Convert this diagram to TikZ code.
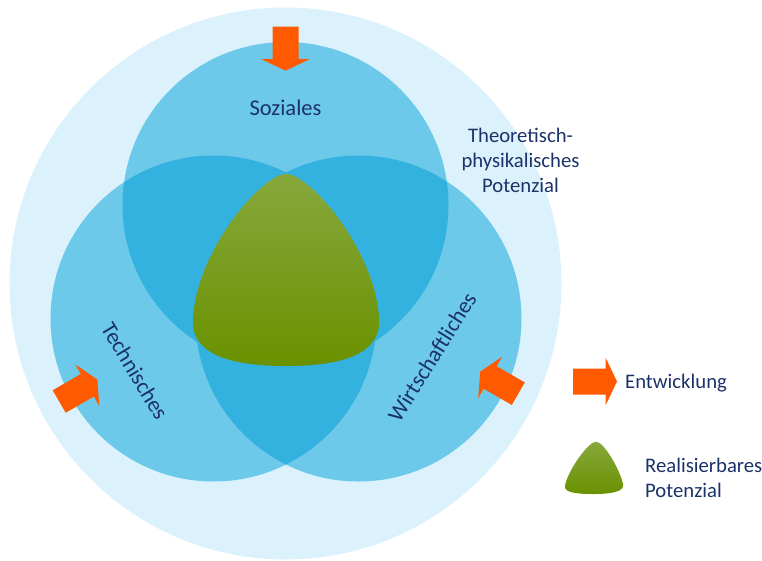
\documentclass[tikz,border=0pt]{standalone}
\usepackage{fontspec}
\setmainfont{Carlito}
\definecolor{outerblue}{RGB}{219,242,252}
\definecolor{circblue}{RGB}{109,201,234}
\definecolor{overblue}{RGB}{51,177,223}
\definecolor{arroworange}{RGB}{255,90,0}
\definecolor{textnavy}{RGB}{27,50,105}
\definecolor{gtop}{RGB}{134,168,60}
\definecolor{gmid}{RGB}{116,156,0}
\definecolor{gbot}{RGB}{106,145,0}
\tikzset{
  blockarrow/.pic={\fill[arroworange] (0,-13) -- (32.5,-13) -- (32.5,-24) -- (44,0) -- (32.5,24) -- (32.5,13) -- (0,13) -- cycle;},
  lblbig/.style={text=textnavy, inner sep=0pt, font=\fontsize{22.5}{27}\selectfont},
  lblsmall/.style={text=textnavy, inner sep=0pt, font=\fontsize{20.7}{25}\selectfont},
  greenfill/.style={top color=gtop, middle color=gmid, bottom color=gbot}
}
\begin{document}
\begin{tikzpicture}[x=1pt,y=-1pt]
\useasboundingbox (0,0) rectangle (762,560);
\coordinate (O) at (285.5,283.5);
\coordinate (S) at (285.5,205);
\coordinate (T) at (213.5,318.5);
\coordinate (W) at (358.5,318.5);
% outer circle
\fill[outerblue] (O) circle[radius=276pt];
% three circles
\fill[circblue] (S) circle[radius=163pt];
\fill[circblue] (T) circle[radius=163pt];
\fill[circblue] (W) circle[radius=163pt];
\begin{scope}
  \clip (S) circle[radius=163pt];
  \fill[overblue] (T) circle[radius=163pt];
  \fill[overblue] (W) circle[radius=163pt];
\end{scope}
\begin{scope}
  \clip (T) circle[radius=163pt];
  \fill[overblue] (W) circle[radius=163pt];
\end{scope}
% green realisable potential
\path[greenfill] (286,174) .. controls (310,174) and (375,250) .. (379,318)
  .. controls (382,355) and (340,366) .. (286,366)
  .. controls (232,366) and (190,355) .. (193,318)
  .. controls (197,250) and (262,174) .. (286,174) -- cycle;
% arrows
\pic[rotate=-90] at (285.5,26.7) {blockarrow};
\pic[rotate=30] at (59.2,401.5) {blockarrow};
\pic[rotate=150] at (518.3,393.7) {blockarrow};
% labels
\node[lblbig] (soz) at (285.5,108) {Soziales};
\node[lblbig, rotate=-59] (tech) at (135,371) {Technisches};
\node[lblbig, rotate=58] (wirt) at (432,357) {Wirtschaftliches};
\node[lblsmall, align=center] (theo) at (520.5,160) {Theoretisch-\\physikalisches\\Potenzial};
% legend
\pic at (573,381.5) {blockarrow};
\node[lblsmall, anchor=west] (entw) at (625,383) {Entwicklung};
\path[greenfill] (596,441.7) .. controls (604,441.7) and (620,470) .. (623,484)
  .. controls (625,492) and (610,494) .. (594,494)
  .. controls (578,494) and (564,493) .. (565,486)
  .. controls (567,472) and (588,441.7) .. (596,441.7) -- cycle;
\node[lblsmall, anchor=west, align=left] (real) at (645,477.5) {Realisierbares\\Potenzial};
\end{tikzpicture}
\end{document}
